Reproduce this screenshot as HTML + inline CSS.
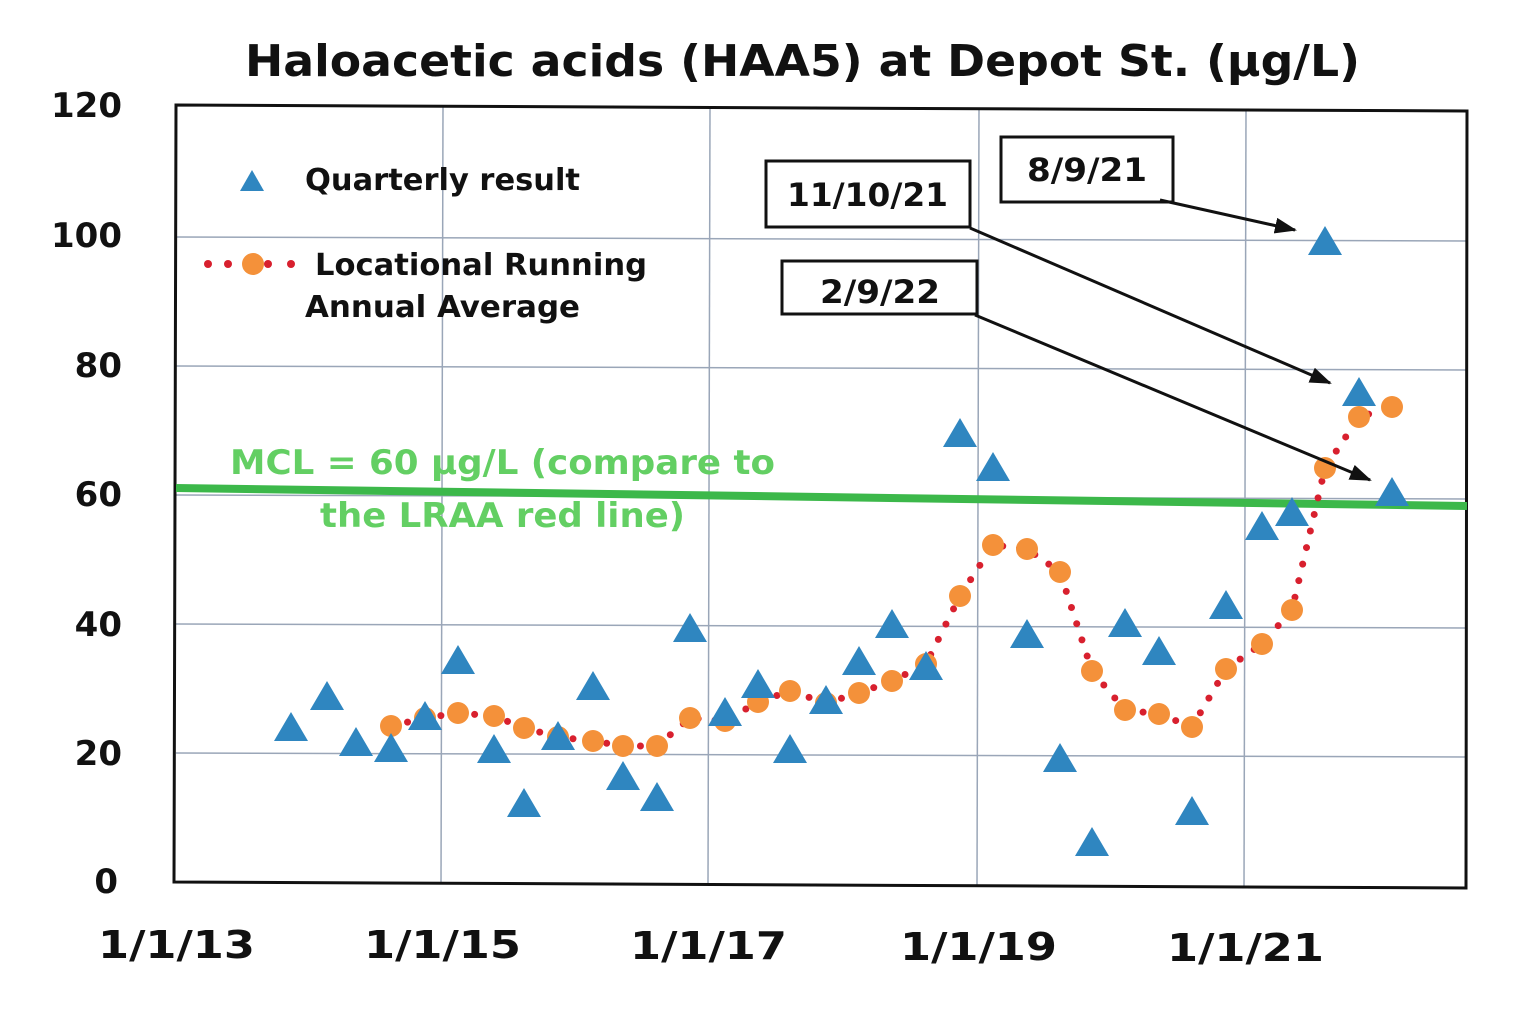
<!DOCTYPE html>
<html><head><meta charset="utf-8"><style>
html,body{margin:0;padding:0;background:#fff;}
svg{display:block;}
text{font-family:"DejaVu Sans","Liberation Sans",sans-serif;font-weight:bold;}
</style></head><body>
<svg width="1536" height="1029" viewBox="0 0 1536 1029" xmlns="http://www.w3.org/2000/svg">
<defs>
<marker id="ah" markerWidth="22" markerHeight="16" refX="20" refY="8" orient="auto" markerUnits="userSpaceOnUse" viewBox="0 0 22 16"><path d="M0,0 L22,8 L0,16 z" fill="#111"/></marker>
</defs>
<text x="245" y="76" font-size="44" fill="#111" textLength="1115" lengthAdjust="spacingAndGlyphs">Haloacetic acids (HAA5) at Depot St. (µg/L)</text>
<g stroke="#9aa6b8" stroke-width="1.5">
<line x1="176" y1="237" x2="1467" y2="241"/>
<line x1="176" y1="366" x2="1467" y2="370"/>
<line x1="176" y1="495" x2="1467" y2="499"/>
<line x1="176" y1="624" x2="1467" y2="628"/>
<line x1="176" y1="753" x2="1467" y2="757"/>
<line x1="443" y1="106" x2="441" y2="884"/>
<line x1="710" y1="107" x2="708" y2="885"/>
<line x1="979" y1="108" x2="977" y2="886"/>
<line x1="1246" y1="110" x2="1244" y2="887"/>
</g>
<path d="M176,105 L1467,111 L1466,888 L174,882 Z" fill="none" stroke="#111" stroke-width="3"/>
<g font-size="34" fill="#111" text-anchor="end">
<text x="122" y="117">120</text><text x="122" y="247">100</text><text x="122" y="377">80</text>
<text x="122" y="506">60</text><text x="122" y="636">40</text><text x="122" y="765">20</text><text x="118" y="893">0</text>
</g>
<g font-size="38" fill="#111">
<text x="98" y="958" textLength="157" lengthAdjust="spacingAndGlyphs">1/1/13</text>
<text x="364" y="958" textLength="157" lengthAdjust="spacingAndGlyphs">1/1/15</text>
<text x="630" y="959" textLength="157" lengthAdjust="spacingAndGlyphs">1/1/17</text>
<text x="900" y="960" textLength="157" lengthAdjust="spacingAndGlyphs">1/1/19</text>
<text x="1167" y="961" textLength="157" lengthAdjust="spacingAndGlyphs">1/1/21</text>
</g>
<line x1="176" y1="488" x2="1467" y2="506" stroke="#3cb84a" stroke-width="8"/>
<text x="230" y="474" font-size="34" fill="#63cf63" textLength="545" lengthAdjust="spacingAndGlyphs">MCL = 60 µg/L (compare to</text>
<text x="320" y="527" font-size="34" fill="#63cf63" textLength="365" lengthAdjust="spacingAndGlyphs">the LRAA red line)</text>
<polyline fill="none" stroke="#d8202e" stroke-width="7" stroke-linecap="round" stroke-dasharray="0 17" points="391,726 425,718 458,713 494,716 524,728 558,737 593,741 623,746 657,746 690,718 725,721 758,702 790,691 826,703 859,693 892,681 926,664 960,596 993,545 1027,549 1060,572 1092,671 1125,710 1159,714 1192,727 1226,669 1262,644 1292,610 1325,468 1359,417 1392,407"/>
<g fill="#f4913a">
<circle cx="391" cy="726" r="11"/><circle cx="425" cy="718" r="11"/><circle cx="458" cy="713" r="11"/><circle cx="494" cy="716" r="11"/><circle cx="524" cy="728" r="11"/><circle cx="558" cy="737" r="11"/><circle cx="593" cy="741" r="11"/><circle cx="623" cy="746" r="11"/><circle cx="657" cy="746" r="11"/><circle cx="690" cy="718" r="11"/><circle cx="725" cy="721" r="11"/><circle cx="758" cy="702" r="11"/><circle cx="790" cy="691" r="11"/><circle cx="826" cy="703" r="11"/><circle cx="859" cy="693" r="11"/><circle cx="892" cy="681" r="11"/><circle cx="926" cy="664" r="11"/><circle cx="960" cy="596" r="11"/><circle cx="993" cy="545" r="11"/><circle cx="1027" cy="549" r="11"/><circle cx="1060" cy="572" r="11"/><circle cx="1092" cy="671" r="11"/><circle cx="1125" cy="710" r="11"/><circle cx="1159" cy="714" r="11"/><circle cx="1192" cy="727" r="11"/><circle cx="1226" cy="669" r="11"/><circle cx="1262" cy="644" r="11"/><circle cx="1292" cy="610" r="11"/><circle cx="1325" cy="468" r="11"/><circle cx="1359" cy="417" r="11"/><circle cx="1392" cy="407" r="11"/>
</g>
<g fill="#2f86c0">
<polygon points="274,741 308,741 291,712"/>
<polygon points="310,710 344,710 327,681"/>
<polygon points="339,756 373,756 356,727"/>
<polygon points="374,762 408,762 391,733"/>
<polygon points="408,730 442,730 425,701"/>
<polygon points="441,674 475,674 458,645"/>
<polygon points="477,763 511,763 494,734"/>
<polygon points="507,817 541,817 524,788"/>
<polygon points="541,750 575,750 558,721"/>
<polygon points="576,700 610,700 593,671"/>
<polygon points="606,790 640,790 623,761"/>
<polygon points="640,811 674,811 657,782"/>
<polygon points="673,642 707,642 690,613"/>
<polygon points="708,726 742,726 725,697"/>
<polygon points="741,698 775,698 758,669"/>
<polygon points="773,763 807,763 790,734"/>
<polygon points="809,714 843,714 826,685"/>
<polygon points="842,675 876,675 859,646"/>
<polygon points="875,638 909,638 892,609"/>
<polygon points="909,680 943,680 926,651"/>
<polygon points="943,447 977,447 960,418"/>
<polygon points="976,481 1010,481 993,452"/>
<polygon points="1010,648 1044,648 1027,619"/>
<polygon points="1043,772 1077,772 1060,743"/>
<polygon points="1075,856 1109,856 1092,827"/>
<polygon points="1108,637 1142,637 1125,608"/>
<polygon points="1142,665 1176,665 1159,636"/>
<polygon points="1175,825 1209,825 1192,796"/>
<polygon points="1209,619 1243,619 1226,590"/>
<polygon points="1245,540 1279,540 1262,511"/>
<polygon points="1275,526 1309,526 1292,497"/>
<polygon points="1308,255 1342,255 1325,226"/>
<polygon points="1342,406 1376,406 1359,377"/>
<polygon points="1375,506 1409,506 1392,477"/>
</g>
<polygon points="240,191 264,191 252,170" fill="#2f86c0"/>
<text x="305" y="190" font-size="30" fill="#111" textLength="275" lengthAdjust="spacingAndGlyphs">Quarterly result</text>
<g fill="#d8202e"><circle cx="208" cy="264" r="4"/><circle cx="228" cy="264" r="4"/><circle cx="268" cy="264" r="4"/><circle cx="291" cy="264" r="4"/></g>
<circle cx="253" cy="264" r="11" fill="#f4913a"/>
<text x="315" y="275" font-size="30" fill="#111" textLength="332" lengthAdjust="spacingAndGlyphs">Locational Running</text>
<text x="305" y="317" font-size="30" fill="#111" textLength="275" lengthAdjust="spacingAndGlyphs">Annual Average</text>
<rect x="1001" y="137" width="172" height="65" fill="#fff" stroke="#111" stroke-width="3"/>
<text x="1027" y="181" font-size="32" fill="#111" textLength="120" lengthAdjust="spacingAndGlyphs">8/9/21</text>
<rect x="766" y="161" width="204" height="66" fill="#fff" stroke="#111" stroke-width="3"/>
<text x="787" y="206" font-size="32" fill="#111" textLength="161" lengthAdjust="spacingAndGlyphs">11/10/21</text>
<rect x="782" y="261" width="195" height="53" fill="#fff" stroke="#111" stroke-width="3"/>
<text x="820" y="303" font-size="32" fill="#111" textLength="120" lengthAdjust="spacingAndGlyphs">2/9/22</text>
<g stroke="#111" stroke-width="3" fill="none" marker-end="url(#ah)">
<line x1="1160" y1="200" x2="1295" y2="230"/>
<line x1="970" y1="228" x2="1330" y2="383"/>
<line x1="975" y1="315" x2="1370" y2="480"/>
</g>
</svg>
</body></html>
